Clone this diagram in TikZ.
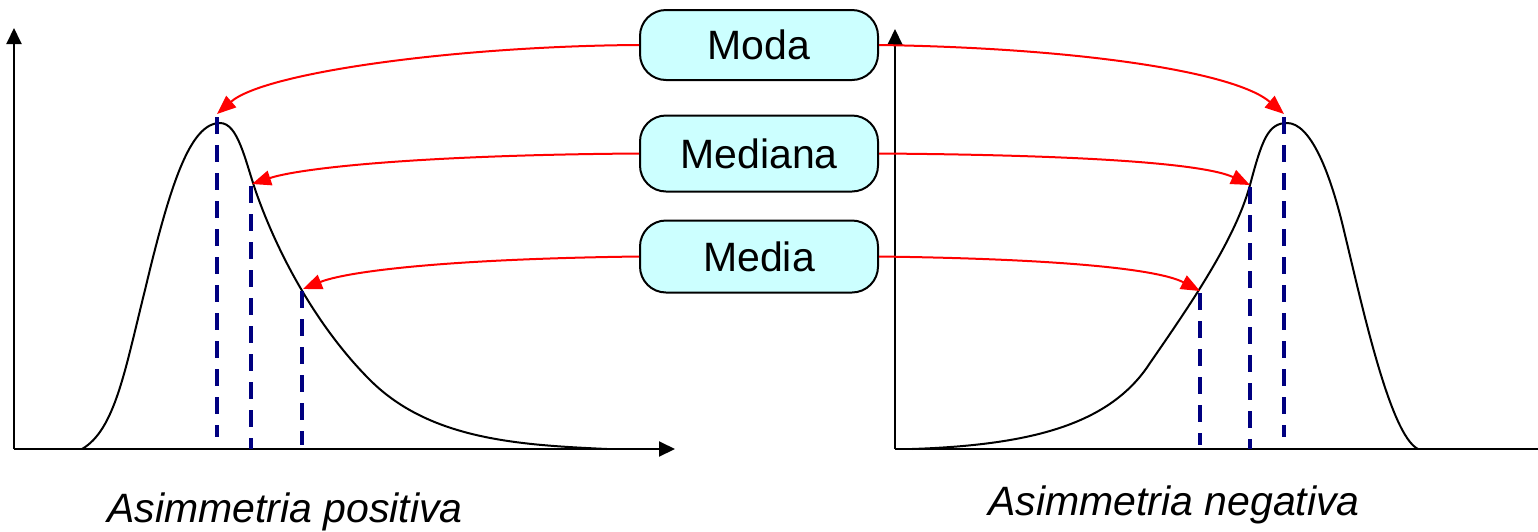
\documentclass[tikz,border=0pt]{standalone}
\usepackage{fontspec}
\setmainfont{Liberation Sans}
\usetikzlibrary{arrows.meta}
\definecolor{boxfill}{HTML}{CCFFFF}
\definecolor{dashnavy}{HTML}{000080}
\tikzset{
  axis/.style={line width=1pt,-{Triangle[length=8pt,width=7.5pt]}},
  plainaxis/.style={line width=1pt},
  curve/.style={line width=1pt},
  lbox/.style={draw=black,line width=1pt,fill=boxfill,rounded corners=13pt,
    minimum width=119pt,minimum height=36pt,inner sep=0pt,font=\fontsize{20.5}{24}\selectfont},
  rarrow/.style={draw=red,line width=1pt,-{Triangle[length=9.5pt,width=7.5pt]}},
  vdash/.style={draw=dashnavy,line width=1.6pt,dash pattern=on 8.5pt off 5.5pt},
  caption/.style={anchor=base,inner sep=0pt,font=\fontsize{20.5}{24}\selectfont\itshape}
}
\begin{document}
\begin{tikzpicture}[x=0.5pt,y=-0.5pt]
\useasboundingbox (0,0) rectangle (1538,531);
% axes
\coordinate (lo) at (14,449);
\coordinate (ly) at (14,28);
\coordinate (lx) at (675,449);
\coordinate (ro) at (895,449);
\coordinate (ry) at (895,29);
\coordinate (rx) at (1538,449);
\draw[axis] (lo) -- (ly);
\draw[axis] (lo) -- (lx);
\draw[axis] (ro) -- (ry);
\draw[plainaxis] (ro) -- (rx);
% curves
\draw[curve] (82,449) .. controls (115,430) and (125,370) .. (145,290)
  .. controls (170,185) and (190,123) .. (220,123)
  .. controls (238,123) and (245,160) .. (256,192)
  .. controls (280,260) and (320,330) .. (370,380)
  .. controls (430,440) and (520,445) .. (607,449);
\draw[curve] (912,449) .. controls (1030,445) and (1110,425) .. (1150,363)
  .. controls (1190,305) and (1235,240) .. (1250,185)
  .. controls (1262,140) and (1268,123) .. (1287,123)
  .. controls (1310,123) and (1330,170) .. (1345,235)
  .. controls (1362,305) and (1390,435) .. (1418,449);
% tip coordinates
\coordinate (lmo) at (217,114);
\coordinate (lme) at (252,184);
\coordinate (lma) at (303,289);
\coordinate (rmo) at (1284,114);
\coordinate (rme) at (1250,185);
\coordinate (rma) at (1200,291);
\coordinate (lmob) at (217,437);
\coordinate (lmeb) at (251,449);
\coordinate (lmab) at (302,445);
\coordinate (rmob) at (1284,437);
\coordinate (rmeb) at (1250,449);
\coordinate (rmab) at (1200,445);
% dashed lines
\draw[vdash] (217,117) -- (lmob);
\draw[vdash] (251,186) -- (lmeb);
\draw[vdash] (302,291) -- (lmab);
\draw[vdash] (1284,117) -- (rmob);
\draw[vdash] (1250,187) -- (rmeb);
\draw[vdash] (1200,293) -- (rmab);
% boxes
\node[lbox,minimum height=35pt] (mo) at (759,45) {Moda};
\node[lbox,minimum height=38pt] (me) at (759,153.5) {Mediana};
\node[lbox] (ma) at (759,256.5) {Media};
% red arrows
\draw[rarrow] (mo.west) .. controls (460,46) and (265,72) .. (lmo);
\draw[rarrow] (me.west) .. controls (420,155) and (300,168) .. (lme);
\draw[rarrow] (ma.west) .. controls (440,259) and (345,272) .. (lma);
\draw[rarrow] (mo.east) .. controls (1080,48) and (1235,72) .. (rmo);
\draw[rarrow] (me.east) .. controls (1090,155) and (1205,164) .. (rme);
\draw[rarrow] (ma.east) .. controls (1070,259) and (1160,270) .. (rma);
% captions
\node[caption] (cl) at (285,522) {Asimmetria positiva};
\node[caption] (cr) at (1174,515) {Asimmetria negativa};
\end{tikzpicture}
\end{document}
